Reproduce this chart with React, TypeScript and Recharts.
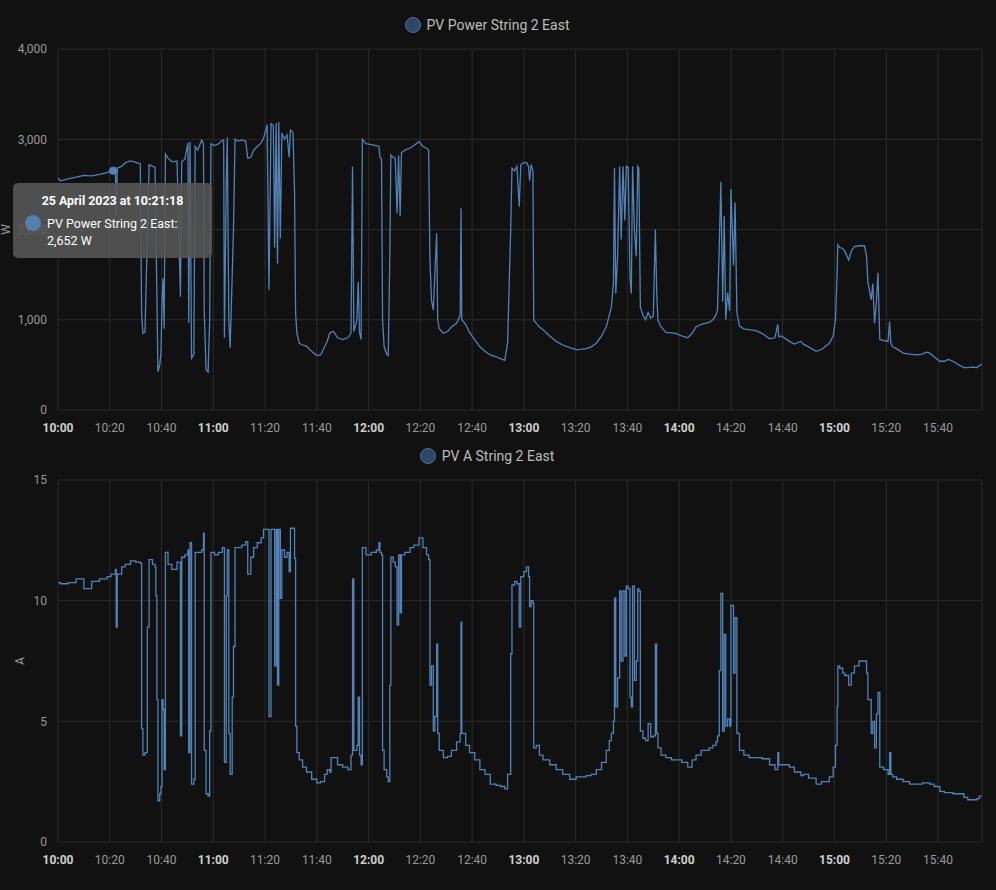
import React from "react";
import {
  LineChart,
  Line,
  XAxis,
  YAxis,
  CartesianGrid,
  Tooltip,
  Legend,
} from "recharts";

// minutes after 10:00 on 25 April 2023
const sampleMinutes = [
  0, 1, 4, 7, 10, 13, 16, 19, 20.5, 21.3,
  22.2, 22.5, 22.9, 24.6, 26, 28, 30, 31.8, 32.3, 32.8,
  33.6, 34.5, 35.2, 36.5, 37.5, 37.8, 38.2, 38.6, 39.3, 39.8,
  40.2, 40.6, 41.0, 41.5, 42.5, 44, 46, 47.3, 47.8, 49,
  50.2, 50.5, 51, 51.6, 52.5, 53, 54, 55.5, 56.2, 56.5,
  57.2, 58, 58.6, 59.1, 60.5, 62, 63.5, 64.0, 64.3, 65.0,
  65.4, 66.0, 66.5, 67.3, 67.8, 68.4, 69.5, 71, 72.5, 73.3,
  74.5, 75.6, 77, 78.5, 79.4, 80.3, 80.8, 81.5, 82.3, 83.2,
  83.7, 84.3, 84.8, 85.3, 85.9, 86.5, 87.5, 88.5, 89.3, 89.8,
  90.8, 91.4, 91.8, 92.3, 93.2, 94.5, 96, 98, 100, 101.5,
  103, 104, 105, 105.5, 106.5, 108, 110, 112, 113.2, 113.8,
  114.3, 115.5, 116, 116.5, 117.1, 117.6, 119, 121, 123, 124,
  124.4, 125.0, 125.4, 126, 127, 127.6, 128.2, 128.6, 129.5, 130.3,
  131.0, 131.6, 132.2, 132.7, 134, 136, 137.5, 139.5, 141, 142.4,
  143.2, 143.7, 144.3, 145, 145.6, 146.3, 146.7, 147.3, 148.9, 150.5,
  152, 154, 155.4, 155.7, 156, 157.5, 159, 161, 163, 165,
  167, 169.3, 171, 172.6, 173.7, 174.9, 175.4, 176.4, 177.3, 178.2,
  178.8, 180, 181, 181.8, 182.2, 182.8, 183.5, 183.8, 184.8, 186,
  187.4, 190, 192.5, 195, 197.7, 200.2, 202, 204.1, 206, 208,
  210, 211.8, 213, 213.8, 214.6, 215, 215.5, 216.2, 217, 217.6,
  218.3, 219, 219.6, 220.3, 221, 221.5, 222, 222.7, 223.4, 224,
  224.4, 225, 226, 227, 228, 229, 230, 230.8, 231.3, 231.8,
  233, 234.9, 237, 238.7, 241, 243.3, 245, 246.5, 248.5, 250,
  251.6, 253, 254.2, 254.8, 255.5, 256.1, 256.8, 257.4, 258, 258.7,
  259.5, 260, 261, 261.6, 262.3, 263.3, 265, 267, 269.7, 272,
  274.9, 277, 278.1, 278.5, 279.5, 282.6, 284.5, 287, 288, 290,
  292.9, 295, 298, 299.5, 300.4, 301.0, 301.3, 302, 303.2, 304,
  305.5, 306.5, 307.7, 309.5, 311.6, 312.4, 312.9, 314.2, 314.8, 315.5,
  316.2, 316.8, 317.5, 319, 320.7, 321.3, 321.8, 322.5, 324, 326.5,
  329, 331.7, 334, 335.5, 336.8, 338.5, 340.7, 342.5, 344, 345.8,
  348, 350, 351.5, 353.5, 355, 356, 356.9,
];

const powerWatts = [
  2567, 2540, 2560, 2580, 2600, 2595, 2610, 2630, 2650, 2652,
  2680, 2150, 2680, 2700, 2740, 2760, 2745, 2730, 1074, 850,
  860, 1900, 2720, 2700, 2690, 2000, 1300, 424, 500, 640,
  1200, 1460, 900, 2836, 2790, 2750, 2760, 1255, 2750, 2780,
  2960, 963, 2973, 575, 620, 2920, 2880, 2990, 2950, 1100,
  450, 424, 990, 2950, 2930, 2950, 2990, 2990, 800, 2500,
  3020, 1000, 686, 1480, 2000, 3000, 2980, 2990, 2980, 2790,
  2800, 2880, 2920, 2960, 3010, 3100, 3160, 1330, 3170, 3150,
  1800, 3180, 1620, 3190, 1900, 3069, 3000, 3050, 2800, 3100,
  3080, 2400, 1075, 853, 740, 720, 707, 650, 603, 610,
  700, 760, 853, 860, 870, 800, 780, 800, 850, 2696,
  870, 1000, 1420, 860, 780, 3000, 2950, 2940, 2930, 2920,
  2800, 2780, 1000, 700, 620, 605, 1700, 2826, 2800, 2790,
  2180, 2820, 2150, 2850, 2880, 2900, 2930, 2973, 2920, 2900,
  2880, 1662, 1218, 1107, 1500, 1958, 1000, 900, 850, 870,
  920, 960, 1050, 2236, 1000, 950, 860, 780, 700, 650,
  610, 590, 570, 550, 740, 2000, 2680, 2650, 2700, 2252,
  2720, 2740, 2740, 2700, 2540, 2720, 2650, 997, 960, 920,
  890, 820, 760, 720, 690, 670, 672, 680, 700, 740,
  820, 920, 1050, 1140, 1400, 2680, 1290, 1700, 2700, 1890,
  2700, 2100, 2700, 2690, 1470, 1290, 2700, 2000, 1700, 2700,
  2680, 1140, 1050, 1000, 1080, 1020, 1040, 2000, 1330, 990,
  920, 860, 855, 850, 820, 800, 850, 920, 950, 960,
  970, 1000, 1050, 1110, 1820, 2530, 1200, 2150, 1000, 1300,
  1100, 2450, 1600, 2300, 1080, 930, 900, 890, 880, 850,
  790, 800, 950, 810, 820, 760, 730, 760, 730, 700,
  650, 670, 740, 820, 1010, 1500, 1830, 1800, 1790, 1760,
  1660, 1760, 1810, 1820, 1820, 1700, 1420, 1220, 1400, 960,
  1200, 1520, 780, 770, 760, 980, 740, 700, 680, 630,
  620, 610, 620, 640, 630, 590, 540, 540, 560, 540,
  500, 470, 470, 475, 470, 490, 510,
];

const currentAmps = [
  10.75, 10.7, 10.75, 10.9, 10.5, 10.8, 10.9, 11.0, 11.1, 11.1,
  11.3, 8.9, 11.1, 11.4, 11.5, 11.65, 11.6, 11.55, 4.7, 3.6,
  3.7, 8.9, 11.7, 11.5, 11.4, 10.2, 5.9, 1.7, 2.0, 2.3,
  5.9, 5.5, 3.0, 12.0, 11.5, 11.3, 11.6, 4.4, 11.8, 11.9,
  12.1, 3.7, 12.4, 2.4, 2.6, 12.0, 12.0, 12.1, 12.8, 3.8,
  2.0, 1.9, 4.6, 12.0, 11.9, 12.0, 12.2, 12.2, 3.3, 10.2,
  12.1, 4.5, 2.8, 6.0, 8.1, 12.2, 12.2, 12.3, 12.45, 11.1,
  11.8, 12.2, 12.4, 12.6, 12.95, 12.95, 12.95, 5.2, 12.95, 12.95,
  7.3, 12.95, 6.5, 12.95, 10.1, 12.1, 11.8, 12.0, 11.2, 13.0,
  13.0, 11.75, 4.8, 3.7, 3.4, 3.1, 2.9, 2.6, 2.45, 2.5,
  2.8, 3.0, 2.9, 3.5, 3.5, 3.2, 3.1, 3.0, 3.6, 10.9,
  3.8, 4.0, 6.0, 3.6, 3.2, 12.2, 11.9, 12.0, 12.1, 12.4,
  12.0, 11.9, 3.8, 3.0, 2.7, 2.5, 6.5, 11.8, 11.6, 11.4,
  9.0, 11.9, 9.5, 11.9, 12.0, 12.2, 12.3, 12.6, 12.2, 11.9,
  11.7, 6.5, 7.3, 4.6, 5.2, 8.2, 4.5, 3.8, 3.5, 3.55,
  3.8, 4.15, 4.5, 9.1, 4.5, 4.0, 3.7, 3.4, 3.0, 2.8,
  2.4, 2.35, 2.3, 2.2, 2.8, 7.8, 10.65, 10.8, 10.7, 8.9,
  11.0, 11.2, 11.4, 11.0, 9.75, 10.0, 9.9, 3.9, 4.0, 3.6,
  3.4, 3.2, 3.0, 2.8, 2.6, 2.7, 2.7, 2.75, 2.8, 3.0,
  3.3, 3.8, 4.2, 4.5, 5.0, 10.1, 5.6, 6.8, 10.4, 7.5,
  10.4, 7.7, 10.6, 10.5, 6.0, 5.6, 10.6, 6.7, 7.5, 10.5,
  10.4, 4.6, 4.3, 4.2, 4.9, 4.35, 4.4, 8.2, 4.5, 3.9,
  3.6, 3.5, 3.4, 3.4, 3.3, 3.1, 3.4, 3.6, 3.8, 3.8,
  3.9, 4.0, 4.15, 4.4, 7.1, 10.3, 4.6, 8.6, 4.8, 5.1,
  4.8, 9.8, 7.0, 9.3, 4.5, 3.8, 3.6, 3.5, 3.5, 3.45,
  3.2, 3.0, 3.7, 3.2, 3.2, 3.1, 2.9, 2.75, 2.8, 2.65,
  2.4, 2.5, 2.7, 3.1, 4.0, 5.6, 7.3, 7.2, 7.0, 6.9,
  6.5, 7.0, 7.3, 7.5, 7.5, 7.0, 5.9, 4.5, 5.0, 3.9,
  5.3, 6.2, 3.1, 3.0, 2.8, 3.7, 2.8, 2.7, 2.6, 2.5,
  2.4, 2.4, 2.45, 2.45, 2.4, 2.3, 2.1, 2.05, 2.05, 2.0,
  2.0, 1.85, 1.75, 1.75, 1.8, 1.9, 1.9,
];

const timeTicks = [0, 20, 40, 60, 80, 100, 120, 140, 160, 180, 200, 220, 240, 260, 280, 300, 320, 340];
const powerTicks = [0, 1000, 2000, 3000, 4000];
const currentTicks = [0, 5, 10, 15];

const DAY = "25 April 2023";
const HIGHLIGHT_INDEX = 9; // 10:21:18
const LINE_COLOR = "#5282b6";
const GRID_COLOR = "#2b2b2b";
const FONT = "Roboto, sans-serif";

const rows = sampleMinutes.map((t, i) => ({
  t,
  power: powerWatts[i],
  current: currentAmps[i],
}));

const pad = (n: number) => String(n).padStart(2, "0");

const clock = (m: number, withSeconds = false) => {
  const secs = Math.round(m * 60);
  const h = 10 + Math.floor(secs / 3600);
  const mm = Math.floor((secs % 3600) / 60);
  const ss = secs % 60;
  return withSeconds ? `${h}:${pad(mm)}:${pad(ss)}` : `${h}:${pad(mm)}`;
};

const TimeTick = (props: any) => {
  const { x, y, payload } = props;
  const hour = payload.value % 60 === 0;
  return (
    <text
      x={x}
      y={y}
      dy="0.71em"
      textAnchor="middle"
      fontFamily={FONT}
      fontSize={12}
      fontWeight={hour ? 700 : 400}
      fill={hour ? "#cfcfcf" : "#9a9a9a"}
    >
      {clock(payload.value)}
    </text>
  );
};

const AxisTitle = (props: any) => {
  const { viewBox, cx, text } = props;
  const cy = viewBox.y + viewBox.height / 2;
  return (
    <text
      x={cx}
      y={cy}
      transform={`rotate(-90 ${cx} ${cy})`}
      textAnchor="middle"
      dominantBaseline="central"
      fontFamily={FONT}
      fontSize={12}
      fill="#9a9a9a"
    >
      {text}
    </text>
  );
};

const LegendItem = (props: any) => {
  const item = props.payload && props.payload[0];
  return (
    <div style={{ height: 36, paddingRight: 8 }}>
      <div
        style={{
          display: "flex",
          justifyContent: "center",
          alignItems: "center",
          height: 24,
        }}
      >
        <span
          style={{
            width: 14,
            height: 14,
            borderRadius: "50%",
            background: "#2d4866",
            border: "1px solid #4d739c",
            marginRight: 6,
          }}
        />
        <span style={{ fontFamily: FONT, fontSize: 14, color: "#bdbdbd" }}>
          {item ? item.value : ""}
        </span>
      </div>
    </div>
  );
};

const PowerTooltip = (props: any) => {
  const { active, payload } = props;
  if (!active || !payload || !payload.length) return null;
  const p = payload[0];
  return (
    <div
      style={{
        width: 199,
        height: 75,
        boxSizing: "border-box",
        background: "rgba(86,86,86,0.9)",
        borderRadius: 5,
        padding: "10px 12px",
        fontFamily: FONT,
        color: "#ffffff",
      }}
    >
      <div style={{ textAlign: "center", fontWeight: 700, fontSize: 12.4, lineHeight: "16px" }}>
        {`${DAY} at ${clock(p.payload.t, true)}`}
      </div>
      <div style={{ display: "flex", marginTop: 6 }}>
        <span
          style={{
            width: 16,
            height: 16,
            flex: "none",
            borderRadius: "50%",
            background: "#557fae",
            marginRight: 6,
          }}
        />
        <div style={{ fontSize: 12.5, lineHeight: "17px" }}>
          {`${p.name}:`}
          <br />
          {`${Number(p.value).toLocaleString("en-US")} W`}
        </div>
      </div>
    </div>
  );
};

const xAxisProps = {
  dataKey: "t",
  type: "number" as const,
  domain: [0, 357],
  ticks: timeTicks,
  interval: 0 as const,
  allowDataOverflow: true,
  tickLine: false,
  axisLine: false,
  height: 30,
  tickMargin: 7,
  tick: <TimeTick />,
};

const yTick = { fontFamily: FONT, fontSize: 12, fill: "#9a9a9a" };

const App = () => {
  return (
    <div
      style={{
        position: "absolute",
        left: 0,
        top: 0,
        width: 996,
        height: 890,
        background: "#111111",
      }}
    >
      <LineChart width={996} height={440} data={rows} margin={{ top: 13, right: 14, bottom: 0, left: 0 }}>
        <CartesianGrid stroke={GRID_COLOR} />
        <Legend verticalAlign="top" align="center" content={<LegendItem />} />
        <XAxis {...xAxisProps} />
        <YAxis
          domain={[0, 4000]}
          ticks={powerTicks}
          width={58}
          tickLine={false}
          axisLine={false}
          tickMargin={5}
          tick={yTick}
          tickFormatter={(v: number) => v.toLocaleString("en-US")}
          label={<AxisTitle cx={6} text="W" />}
        />
        <Tooltip
          content={<PowerTooltip />}
          active
          defaultIndex={HIGHLIGHT_INDEX}
          position={{ x: 13, y: 183 }}
          cursor={false}
          isAnimationActive={false}
          wrapperStyle={{ outline: "none", zIndex: 10 }}
        />
        <Line
          name="PV Power String 2 East"
          dataKey="power"
          type="linear"
          stroke={LINE_COLOR}
          strokeWidth={1.3}
          dot={false}
          activeDot={{ r: 4, fill: LINE_COLOR, stroke: "none" }}
          isAnimationActive={false}
        />
      </LineChart>
      <LineChart width={996} height={450} data={rows} margin={{ top: 4, right: 14, bottom: 18, left: 0 }}>
        <CartesianGrid stroke={GRID_COLOR} />
        <Legend verticalAlign="top" align="center" content={<LegendItem />} />
        <XAxis {...xAxisProps} />
        <YAxis
          domain={[0, 15]}
          ticks={currentTicks}
          width={58}
          tickLine={false}
          axisLine={false}
          tickMargin={5}
          tick={yTick}
          label={<AxisTitle cx={20} text="A" />}
        />
        <Line
          name="PV A String 2 East"
          dataKey="current"
          type="stepAfter"
          stroke={LINE_COLOR}
          strokeWidth={1.3}
          dot={false}
          activeDot={false}
          isAnimationActive={false}
        />
      </LineChart>
    </div>
  );
};

export default App;
